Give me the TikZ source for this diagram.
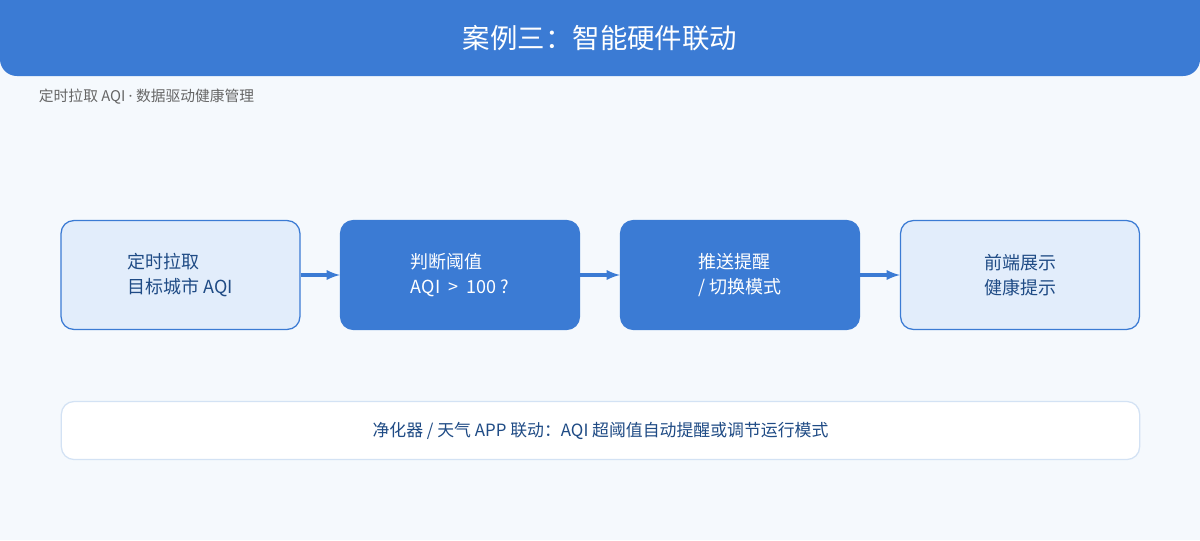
\documentclass[tikz,border=0pt]{standalone}
\usepackage{fontspec}
\setmainfont{Noto Sans CJK SC}
\newfontfamily\latinfont{Noto Sans}
\usetikzlibrary{positioning}
\definecolor{mainblue}{HTML}{3B7BD4}
\definecolor{lightfill}{HTML}{E2EDFB}
\definecolor{darktext}{HTML}{1F4B85}
\definecolor{bgcol}{HTML}{F5F9FD}
\definecolor{softline}{HTML}{D3E2F4}
\tikzset{
  light/.style={draw=mainblue, fill=lightfill, line width=0.9pt, rounded corners=9pt,
    minimum width=5.97cm, minimum height=2.72cm, text=darktext, align=left, font=\fontsize{12.8}{18}\selectfont},
  dark/.style={draw=mainblue, fill=mainblue, line width=0.9pt, rounded corners=9pt,
    minimum width=5.97cm, minimum height=2.72cm, text=white, align=left, font=\fontsize{12.8}{18}\selectfont},
  flow/.style={-latex, mainblue, line width=2.2pt}
}
\begin{document}
\begin{tikzpicture}[x=0.025cm,y=-0.025cm]
  \fill[bgcol] (0,0) rectangle (1200,540);
  \useasboundingbox (0,0) rectangle (1200,540);
  % title bar
  \fill[mainblue, rounded corners=12pt] (0,-20) rectangle (1200,76);
  \node[text=white, font=\fontsize{19.5}{22}\selectfont] (title) at (600,38) {案例三：智能硬件联动};
  \node[anchor=west, text=black!60, font=\fontsize{10.5}{12}\selectfont] (sub) at (34,97) {定时拉取 AQI {\latinfont ·} 数据驱动健康管理};

  % flow
  \node[light] (fetch) at (180.5,275) {定时拉取\\目标城市 AQI};
  \node[dark] (judge) at (460,275) {判断阈值\\AQI \ > \ 100 ?};
  \node[dark] (push) at (740,275) {推送提醒\\/ 切换模式};
  \node[light] (show) at (1020,275) {前端展示\\健康提示};

  \draw[flow] (fetch) -- (judge);
  \draw[flow] (judge) -- (push);
  \draw[flow] (push) -- (show);

  % note
  \node[draw=softline, fill=white, line width=0.9pt, rounded corners=9pt,
    minimum width=26.95cm, minimum height=1.45cm, text=darktext,
    font=\fontsize{12}{14}\selectfont] (note) at (600.5,430.5)
    {净化器 / 天气 APP 联动：AQI 超阈值自动提醒或调节运行模式};
\end{tikzpicture}
\end{document}
